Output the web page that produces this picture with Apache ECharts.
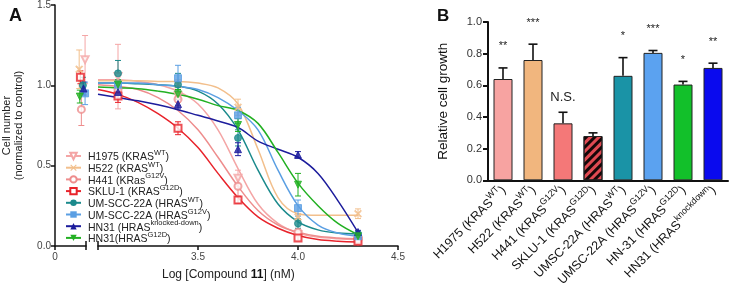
<!DOCTYPE html>
<html><head><meta charset="utf-8">
<script src="https://cdn.jsdelivr.net/npm/echarts@6/dist/echarts.min.js"></script>
<style>html,body{margin:0;padding:0;background:#fff}#c{width:729px;height:289px}</style>
</head><body><div id="c"></div><script>
// ---------- Panel A data ----------
const curveX = [3.0, 3.1, 3.2, 3.3, 3.4, 3.5, 3.6, 3.7, 3.8, 3.9, 4.0, 4.1, 4.2, 4.3];
const doses = [3.1, 3.4, 3.7, 4.0, 4.3];
const cellBase = ['H1975 (KRAS', 'H522 (KRAS', 'H441 (KRas', 'SKLU-1 (KRAS', 'UM-SCC-22A (HRAS', 'UM-SCC-22A (HRAS', 'HN31 (HRAS', 'HN31(HRAS'];
const cellSup = ['WT', 'WT', 'G12V', 'G12D', 'WT', 'G12V', 'knocked-down', 'G12D'];
const ctrlX = [0.97, 0.78, 0.85, 0.82, 0.9, 0.97, 0.92, 0.8];
const ctrlMean = [1.16, 1.10, 0.85, 1.05, 1.0, 0.95, 0.98, 0.93];
const ctrlSd = [0.15, 0.12, 0.10, 0.04, 0.05, 0.07, 0.04, 0.04];

const h1975Mean = [1.05, 0.93, 0.42, 0.07, 0.035];
const h1975Sd = [0.20, 0.04, 0.05, 0.01, 0.01];
const h1975Curve = [1.03, 1.03, 1.02, 1.0, 0.96, 0.88, 0.72, 0.48, 0.26, 0.14, 0.08, 0.055, 0.045, 0.04];

const h522Mean = [1.0, 1.0, 0.86, 0.18, 0.20];
const h522Sd = [0.03, 0.03, 0.05, 0.02, 0.03];
const h522Curve = [1.025, 1.025, 1.025, 1.02, 1.02, 1.01, 0.98, 0.88, 0.6, 0.3, 0.2, 0.19, 0.19, 0.19];

const h441Mean = [0.97, 0.91, 0.37, 0.085, 0.04];
const h441Sd = [0.05, 0.04, 0.06, 0.01, 0.01];
const h441Curve = [1.0, 0.99, 0.97, 0.92, 0.84, 0.72, 0.55, 0.37, 0.22, 0.13, 0.085, 0.06, 0.05, 0.045];

const sklu1Mean = [0.93, 0.73, 0.285, 0.05, 0.03];
const sklu1Sd = [0.04, 0.04, 0.02, 0.015, 0.01];
const sklu1Curve = [0.97, 0.94, 0.89, 0.82, 0.73, 0.61, 0.45, 0.3, 0.18, 0.11, 0.065, 0.04, 0.03, 0.025];

const umWtMean = [1.07, 1.0, 0.67, 0.14, 0.075];
const umWtSd = [0.08, 0.07, 0.05, 0.03, 0.01];
const umWtCurve = [1.01, 1.01, 1.005, 1.0, 0.99, 0.96, 0.88, 0.72, 0.47, 0.26, 0.15, 0.1, 0.08, 0.075];

const umG12vMean = [1.0, 1.04, 0.81, 0.235, 0.06];
const umG12vSd = [0.03, 0.08, 0.05, 0.05, 0.01];
const umG12vCurve = [1.01, 1.01, 1.01, 1.0, 0.99, 0.97, 0.92, 0.84, 0.72, 0.47, 0.25, 0.13, 0.08, 0.06];

const hn31KdMean = [0.955, 0.88, 0.6, 0.565, 0.087];
const hn31KdSd = [0.02, 0.03, 0.04, 0.02, 0.01];
const hn31KdCurve = [0.94, 0.92, 0.9, 0.875, 0.845, 0.81, 0.775, 0.735, 0.65, 0.6, 0.55, 0.45, 0.28, 0.085];

const hn31G12dMean = [1.0, 0.94, 0.75, 0.38, 0.06];
const hn31G12dSd = [0.03, 0.03, 0.04, 0.07, 0.01];
const hn31G12dCurve = [0.985, 0.98, 0.975, 0.96, 0.94, 0.91, 0.87, 0.84, 0.76, 0.58, 0.39, 0.25, 0.14, 0.07];

// ---------- Panel B data ----------
const barBase = ['H1975 (KRAS', 'H522 (KRAS', 'H441 (KRAS', 'SKLU-1 (KRAS', 'UMSC-22A (HRAS', 'UMSC-22A (HRAS', 'HN-31 (HRAS', 'HN31 (HRAS'];
const barSup = ['WT', 'WT', 'G12V', 'G12D', 'WT', 'G12V', 'G12D', 'knockdown'];
const barValues = [0.64, 0.76, 0.36, 0.28, 0.66, 0.805, 0.605, 0.71];
const barErr = [0.07, 0.10, 0.07, 0.02, 0.115, 0.015, 0.02, 0.03];
const barSig = ['**', '***', 'N.S.', '', '*', '***', '*', '**'];

// ---------- styles ----------
const FONT = 'Liberation Sans, Arial, sans-serif';
const lineColors = ['#f4a5a5', '#f2bf8c', '#ee8d8d', '#e8232b', '#1b8a8c', '#5b9fe3', '#1c1c9c', '#22b022'];
const xMark = 'path://M0,1.2L1.2,0L5,3.8L8.8,0L10,1.2L6.2,5L10,8.8L8.8,10L5,6.2L1.2,10L0,8.8L3.8,5Z';
const symbols = ['emptyTriangle', xMark, 'emptyCircle', 'emptyRect', 'circle', 'rect', 'triangle', 'triangle'];
const symRot = [180, 0, 0, 0, 0, 0, 0, 180];
const barColors = ['#f7a3a1', '#f1b67e', '#f47878', '#e04a52', '#1a93a6', '#5ba2f0', '#12c02a', '#0a0aee'];

const means = [h1975Mean, h522Mean, h441Mean, sklu1Mean, umWtMean, umG12vMean, hn31KdMean, hn31G12dMean];
const sds = [h1975Sd, h522Sd, h441Sd, sklu1Sd, umWtSd, umG12vSd, hn31KdSd, hn31G12dSd];
const curves = [h1975Curve, h522Curve, h441Curve, sklu1Curve, umWtCurve, umG12vCurve, hn31KdCurve, hn31G12dCurve];

const legendNames = cellBase.map((b, i) => b + cellSup[i] + ')');
const legendIdx = {};
legendNames.forEach((n, i) => legendIdx[n] = i);

function errRender(color, capHalf, onlyUp) {
  return function (params, api) {
    const x = api.value(0), m = api.value(1), s = api.value(2);
    const top = api.coord([x, m + s]);
    const bot = api.coord(onlyUp ? [x, m] : [x, m - s]);
    const st = { stroke: color, lineWidth: onlyUp ? 1.6 : 1 };
    const ch = [
      { type: 'line', shape: { x1: top[0], y1: top[1], x2: bot[0], y2: bot[1] }, style: st },
      { type: 'line', shape: { x1: top[0] - capHalf, y1: top[1], x2: top[0] + capHalf, y2: top[1] }, style: st }
    ];
    if (!onlyUp) ch.push({ type: 'line', shape: { x1: bot[0] - capHalf, y1: bot[1], x2: bot[0] + capHalf, y2: bot[1] }, style: st });
    return { type: 'group', children: ch };
  };
}

const series = [];
for (let i = 0; i < 8; i++) {
  const c = lineColors[i];
  const itemStyle = { color: c, borderColor: c };
  series.push({
    type: 'line', name: legendNames[i], xAxisIndex: 2, yAxisIndex: 1,
    data: curveX.map((x, k) => [x, curves[i][k]]), smooth: 0.35, showSymbol: false,
    symbol: symbols[i], symbolRotate: symRot[i], symbolSize: 7,
    lineStyle: { color: c, width: 1.5 }, itemStyle: itemStyle, z: 2, silent: true
  });
  series.push({
    type: 'custom', name: legendNames[i], xAxisIndex: 2, yAxisIndex: 1,
    data: doses.map((d, k) => [d, means[i][k], sds[i][k]]),
    encode: { x: 0, y: 1 }, renderItem: errRender(c, 3, false), z: 3, silent: true
  });
  series.push({
    type: 'scatter', name: legendNames[i], xAxisIndex: 2, yAxisIndex: 1,
    data: doses.map((d, k) => [d, means[i][k]]),
    symbol: symbols[i], symbolRotate: symRot[i], symbolSize: 7, itemStyle: itemStyle, z: 4, silent: true
  });
  series.push({
    type: 'custom', name: legendNames[i], xAxisIndex: 0, yAxisIndex: 0,
    data: [[ctrlX[i], ctrlMean[i], ctrlSd[i]]],
    encode: { x: 0, y: 1 }, renderItem: errRender(c, 3, false), z: 3, silent: true, clip: false
  });
  series.push({
    type: 'scatter', name: legendNames[i], xAxisIndex: 0, yAxisIndex: 0,
    data: [[ctrlX[i], ctrlMean[i]]], clip: false,
    symbol: symbols[i], symbolRotate: symRot[i], symbolSize: 7, itemStyle: itemStyle, z: 4, silent: true
  });
}

// Panel B bars
series.push({
  type: 'bar', xAxisIndex: 4, yAxisIndex: 2, barWidth: 19,
  data: barValues.map((v, i) => ({
    value: v,
    itemStyle: i === 3 ? {
      color: barColors[i], borderColor: '#222', borderWidth: 1,
      decal: { symbol: 'rect', symbolSize: 1, color: 'rgba(0,0,0,0.9)', dashArrayX: [1, 0], dashArrayY: [3, 3], rotation: -Math.PI / 4 }
    } : { color: barColors[i], borderColor: '#222', borderWidth: 1 }
  })),
  z: 2, silent: true
});
series.push({
  type: 'custom', xAxisIndex: 4, yAxisIndex: 2,
  data: barValues.map((v, i) => [i, v, barErr[i]]),
  encode: { x: 0, y: 1 },
  renderItem: function (params, api) {
    const g = errRender('#111', 4.5, true)(params, api);
    const i = params.dataIndex;
    const top = api.coord([api.value(0), api.value(1) + api.value(2)]);
    const sig = barSig[i];
    if (sig) {
      const isNS = sig === 'N.S.';
      g.children.push({
        type: 'text',
        style: {
          text: sig, x: top[0], y: top[1] - (isNS ? 8 : 16),
          align: 'center', verticalAlign: 'bottom',
          fontSize: isNS ? 13 : 11, fill: '#222', fontFamily: FONT
        }
      });
    }
    return g;
  },
  z: 3, silent: true
});

const rich = {
  m: { fontSize: 10.5, lineHeight: 14, verticalAlign: 'bottom', color: '#222', fontFamily: FONT },
  s: { fontSize: 7.5, lineHeight: 8, verticalAlign: 'top', color: '#222', fontFamily: FONT }
};
const richB = {
  m: { fontSize: 12.5, lineHeight: 16, verticalAlign: 'bottom', color: '#111', fontFamily: FONT },
  s: { fontSize: 9, lineHeight: 10, verticalAlign: 'top', color: '#111', fontFamily: FONT }
};

const axisBlack = { lineStyle: { color: '#111', width: 1.5 } };
const labelGray = { color: '#444', fontSize: 10, fontFamily: FONT };

const option = {
  animation: false,
  backgroundColor: '#fff',
  title: [
    { text: 'A', left: 4, top: 2, textStyle: { fontSize: 18, fontWeight: 'bold', color: '#111', fontFamily: FONT } },
    { text: 'B', left: 432, top: 3, textStyle: { fontSize: 17, fontWeight: 'bold', color: '#111', fontFamily: FONT } },
    {
      text: '{n|Log [Compound }{b|11}{n|] (nM)}', left: 157, top: 264,
      textStyle: {
        fontWeight: 'normal',
        rich: {
          n: { fontSize: 12, color: '#222', fontWeight: 'normal', fontFamily: FONT },
          b: { fontSize: 12, color: '#111', fontWeight: 'bold', fontFamily: FONT }
        }
      }
    }
  ],
  legend: {
    data: legendNames, orient: 'vertical', left: 60, top: 144,
    itemWidth: 15, itemHeight: 8, itemGap: -2.3, selectedMode: false,
    formatter: function (name) {
      const i = legendIdx[name];
      return '{m|' + cellBase[i] + '}{s|' + cellSup[i] + '}{m|)}';
    },
    textStyle: { rich: rich, padding: [0, 0, 0, 2] }
  },
  grid: [
    { left: 52, top: 4, width: 34, height: 242 },
    { left: 98, top: 4, width: 300, height: 242 },
    { left: 488, top: 22, width: 240, height: 160 }
  ],
  xAxis: [
    {
      gridIndex: 0, type: 'value', min: 0, max: 1, interval: 1,
      axisLine: axisBlack, splitLine: { show: false },
      axisTick: { length: 4, lineStyle: { color: '#111', width: 1.5 } },
      axisLabel: Object.assign({ margin: 6, formatter: v => (v === 0 ? '0' : '') }, labelGray)
    },
    {
      gridIndex: 0, type: 'value', min: 0, max: 1, interval: 1, position: 'bottom',
      axisLine: { show: false }, splitLine: { show: false }, axisLabel: { show: false },
      axisTick: { inside: true, length: 5, customValues: [1], lineStyle: { color: '#111', width: 1.5 } }
    },
    {
      gridIndex: 1, type: 'value', min: 3, max: 4.5, interval: 0.5,
      axisLine: axisBlack, splitLine: { show: false },
      axisTick: { length: 4, lineStyle: { color: '#111', width: 1.5 } },
      axisLabel: Object.assign({ margin: 6, formatter: v => (v === 3 ? '' : v.toFixed(1)) }, labelGray)
    },
    {
      gridIndex: 1, type: 'value', min: 3, max: 4.5, interval: 0.5, position: 'bottom',
      axisLine: { show: false }, splitLine: { show: false }, axisLabel: { show: false },
      axisTick: { inside: true, length: 5, customValues: [3], lineStyle: { color: '#111', width: 1.5 } }
    },
    {
      gridIndex: 2, type: 'category', data: barBase.map((b, i) => b + barSup[i] + ')'),
      axisLine: { lineStyle: { color: '#111', width: 2 } },
      axisTick: { alignWithLabel: true, length: 5, lineStyle: { color: '#111', width: 2 } },
      axisLabel: {
        rotate: 45, margin: 7, interval: 0,
        formatter: function (v, i) { return '{m|' + barBase[i] + '}{s|' + barSup[i] + '}{m|)}'; },
        rich: richB
      }
    }
  ],
  yAxis: [
    {
      gridIndex: 0, type: 'value', min: 0, max: 1.5, interval: 0.5,
      axisLine: { show: true, lineStyle: { color: '#111', width: 1.5 } }, splitLine: { show: false },
      axisTick: { show: true, length: 4, lineStyle: { color: '#111', width: 1.5 } },
      axisLabel: Object.assign({ margin: 4, formatter: v => v.toFixed(1) }, labelGray),
      name: 'Cell number\n(normalized to control)', nameLocation: 'middle', nameGap: 30,
      nameTextStyle: { fontSize: 11, color: '#222', lineHeight: 12, fontFamily: FONT }
    },
    { gridIndex: 1, type: 'value', min: 0, max: 1.5, interval: 0.5, show: false },
    {
      gridIndex: 2, type: 'value', min: 0, max: 1, interval: 0.2,
      axisLine: { show: true, lineStyle: { color: '#111', width: 2 } }, splitLine: { show: false },
      axisTick: { show: true, length: 5, lineStyle: { color: '#111', width: 2 } },
      axisLabel: { margin: 6, formatter: v => v.toFixed(1), color: '#333', fontSize: 11, fontFamily: FONT },
      name: 'Relative cell growth', nameLocation: 'middle', nameGap: 38,
      nameTextStyle: { fontSize: 13.5, color: '#111', fontFamily: FONT }
    }
  ],
  series: series
};

const chart = echarts.init(document.getElementById('c'), null, { renderer: 'canvas' });
chart.setOption(option);
</script></body></html>
